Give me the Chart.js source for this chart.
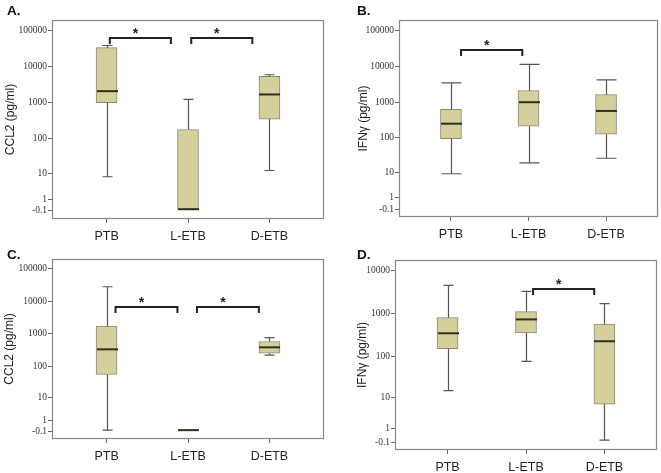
<!DOCTYPE html>
<html>
<head>
<meta charset="utf-8">
<script src="https://cdn.jsdelivr.net/npm/chart.js@4.4.0/dist/chart.umd.min.js"></script>
<style>
  body { margin: 0; background: #fff; }
  #wrap { position: relative; width: 661px; height: 473px; overflow: hidden; background: #fff; }
  canvas { position: absolute; }
  .lbl { position: absolute; font: bold 13.5px "Liberation Sans", Arial, sans-serif; line-height: 13px; color: #111; }
</style>
</head>
<body>
<div id="wrap">
  <canvas id="cA" width="330" height="244" style="left:0;top:0"></canvas>
  <canvas id="cB" width="331" height="244" style="left:330px;top:0"></canvas>
  <canvas id="cC" width="330" height="229" style="left:0;top:244px"></canvas>
  <canvas id="cD" width="331" height="229" style="left:330px;top:244px"></canvas>
  <div class="lbl" style="left:7px;top:4px">A.</div>
  <div class="lbl" style="left:357px;top:4px">B.</div>
  <div class="lbl" style="left:7px;top:248px">C.</div>
  <div class="lbl" style="left:357px;top:248px">D.</div>
</div>
<script>
const categories = ['PTB', 'L-ETB', 'D-ETB'];
const tickValues = [100000, 10000, 1000, 100, 10, 1, -0.1];
const tickLabels = ['100000', '10000', '1000', '100', '10', '1', '-0.1'];
const tickValuesD = [10000, 1000, 100, 10, 1, -0.1];
const tickLabelsD = ['10000', '1000', '100', '10', '1', '-0.1'];

// min, q1, median, q3, max for PTB, L-ETB, D-ETB
const boxA = [[7.7, 1000, 2100, 34000, 39000], [0, 0, 0, 180, 1240], [12, 350, 1700, 5400, 6000]];
const boxB = [[8.9, 95, 250, 630, 3500], [19, 213, 1000, 2100, 11500], [26, 127, 570, 1630, 4200]];
const boxC = [[0, 55, 330, 1700, 27500], [0, 0, 0, 0, 0], [220, 250, 380, 575, 760]];
const boxD = [[15, 150, 345, 795, 4470], [76, 353, 725, 1100, 3240], [0.05, 6.7, 225, 565, 1690]];

// significance brackets: from group, to group, height (pg/ml)
const sigA = [[0, 1, 64000], [1, 2, 64000]];
const sigB = [[0, 1, 29500]];
const sigC = [[0, 1, 6600], [1, 2, 6600]];
const sigD = [[1, 2, 3630]];

// the axis is log10(x + 1.1), so -0.1 sits at 0
const tr = v => Math.log10(v + 1.1);

const boxPlot = {
  id: 'boxPlot',
  afterDatasetsDraw(chart, args, opts) {
    const { ctx, chartArea: a, scales: { x, y } } = chart;
    const py = v => y.getPixelForValue(tr(v));
    ctx.save();
    ctx.strokeStyle = '#888';
    ctx.lineWidth = 1.2;
    ctx.strokeRect(Math.round(a.left) + 0.5, Math.round(a.top) + 0.5,
      Math.round(a.right - a.left) - 1, Math.round(a.bottom - a.top) - 1);

    opts.boxes.forEach((b, i) => {
      const cx = Math.round(x.getPixelForValue(i)) + 0.5;
      ctx.strokeStyle = '#555';
      ctx.lineWidth = 1.2;
      [[b[0], b[1]], [b[4], b[3]]].forEach(([end, edge]) => {
        if (end === edge) return;
        ctx.beginPath();
        ctx.moveTo(cx, py(edge));
        ctx.lineTo(cx, py(end));
        ctx.moveTo(cx - opts.capW / 2, py(end));
        ctx.lineTo(cx + opts.capW / 2, py(end));
        ctx.stroke();
      });
      ctx.strokeStyle = '#2f2f20';
      ctx.lineWidth = 2;
      ctx.beginPath();
      ctx.moveTo(cx - 10.5, py(b[2]));
      ctx.lineTo(cx + 10.5, py(b[2]));
      ctx.stroke();
    });

    ctx.strokeStyle = '#222';
    ctx.fillStyle = '#222';
    ctx.lineWidth = 2;
    ctx.font = 'bold 14px "Liberation Sans", Arial, sans-serif';
    ctx.textAlign = 'center';
    ctx.textBaseline = 'alphabetic';
    opts.sig.forEach(([from, to, v]) => {
      const x1 = x.getPixelForValue(from + opts.inset[0]);
      const x2 = x.getPixelForValue(to - opts.inset[1]);
      const yy = Math.round(py(v));
      ctx.beginPath();
      ctx.moveTo(x1, yy + 6);
      ctx.lineTo(x1, yy);
      ctx.lineTo(x2, yy);
      ctx.lineTo(x2, yy + 6);
      ctx.stroke();
      ctx.fillText('*', (x1 + x2) / 2 - 5, yy);
    });
    ctx.restore();
  }
};

function makePanel(id, boxes, sig, o) {
  const cv = document.getElementById(id);
  const W = cv.width, H = cv.height;
  return new Chart(cv, {
    type: 'bar',
    data: {
      datasets: [{
        data: boxes.map((b, i) => ({ x: i, y: [tr(b[1]), tr(b[3])] })),
        backgroundColor: '#d4cf9b',
        borderColor: '#8c8a72',
        borderWidth: 1,
        borderSkipped: false,
        barThickness: 21
      }]
    },
    options: {
      responsive: false,
      devicePixelRatio: 1,
      animation: false,
      layout: { padding: { left: 0, top: o.area[1], right: W - o.area[2], bottom: 0 } },
      plugins: {
        legend: { display: false },
        tooltip: { enabled: false },
        boxPlot: { boxes: boxes, sig: sig, capW: o.capW, inset: o.inset }
      },
      scales: {
        x: {
          type: 'linear',
          offset: false,
          min: -0.67,
          max: 2.67,
          afterFit: s => { s.height = H - o.area[3]; },
          afterBuildTicks: s => { s.ticks = categories.map((c, i) => ({ value: i })); },
          grid: { offset: false, drawOnChartArea: false, tickLength: 4, color: '#666' },
          border: { display: false },
          ticks: {
            padding: 6,
            color: '#222',
            font: { family: '"Liberation Sans", Arial, sans-serif', size: 12.5 },
            callback: (v, i) => categories[i]
          }
        },
        y: {
          min: o.yMin,
          max: o.yMax,
          afterFit: s => { s.width = o.area[0]; },
          afterBuildTicks: s => { s.ticks = o.ticks.map(v => ({ value: tr(v) })); },
          grid: { drawOnChartArea: false, tickLength: 4, color: '#666' },
          border: { display: false },
          ticks: {
            autoSkip: false,
            padding: 1,
            color: '#333',
            font: { family: '"Liberation Serif", "Times New Roman", serif', size: 9.5 },
            callback: (v, i) => o.labels[i]
          },
          title: {
            display: true,
            text: o.title,
            color: '#222',
            padding: { top: o.titlePad, bottom: 0 },
            font: { family: '"Liberation Sans", Arial, sans-serif', size: 12 }
          }
        }
      }
    },
    plugins: [boxPlot]
  });
}

makePanel('cA', boxA, sigA, {
  title: 'CCL2 (pg/ml)', ticks: tickValues, labels: tickLabels,
  yMin: -0.23, yMax: 5.3, area: [52, 20, 324, 219], titlePad: 3, capW: 10, inset: [0.04, 0.21]
});
makePanel('cB', boxB, sigB, {
  title: 'IFNγ (pg/ml)', ticks: tickValues, labels: tickLabels,
  yMin: -0.21, yMax: 5.3, area: [69, 20, 328, 217], titlePad: 26, capW: 20, inset: [0.13, 0.08]
});
makePanel('cC', boxC, sigC, {
  title: 'CCL2 (pg/ml)', ticks: tickValues, labels: tickLabels,
  yMin: -0.23, yMax: 5.29, area: [52, 15, 324, 195], titlePad: 2, capW: 10, inset: [0.11, 0.13]
});
makePanel('cD', boxD, sigD, {
  title: 'IFNγ (pg/ml)', ticks: tickValuesD, labels: tickLabelsD,
  yMin: -0.17, yMax: 4.24, area: [65, 16, 327, 206], titlePad: 25, capW: 10, inset: [0.09, 0.13]
});
</script>
</body>
</html>
